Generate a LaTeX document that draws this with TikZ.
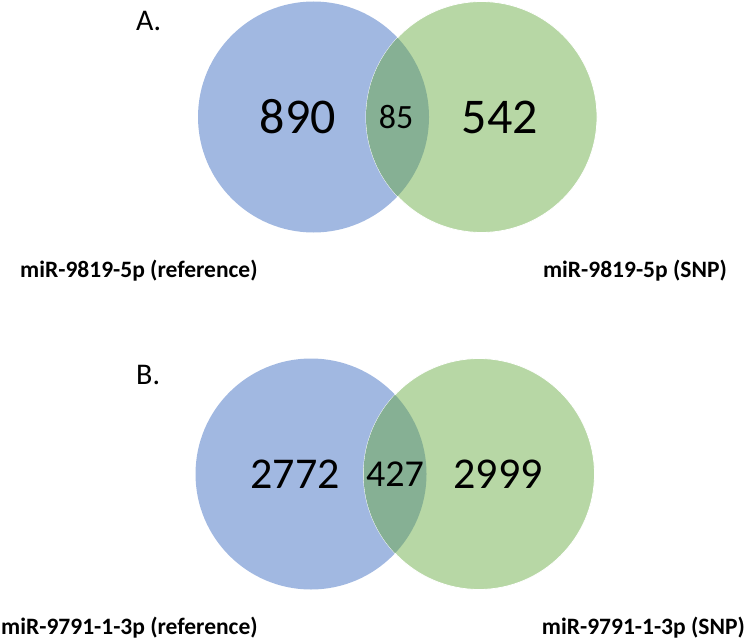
\documentclass[tikz,border=0pt]{standalone}
\usepackage{fontspec}
\setmainfont{Carlito}
\usepackage{tikz}

\definecolor{refblue}{RGB}{161,184,225}
\definecolor{snpgreen}{RGB}{183,215,165}
\definecolor{shared}{RGB}{134,176,148}

\begin{document}
\begin{tikzpicture}
  [x=1pt,y=-1pt,every node/.style={inner sep=0pt},
   setref/.style={circle,minimum size=231pt,fill=refblue},
   setsnp/.style={circle,minimum size=231pt,fill=snpgreen,draw=white,line width=0.8pt},
   big/.style={font=\fontsize{50}{50}\selectfont},
   mid/.style={font=\fontsize{44}{44}\selectfont},
   setname/.style={font=\bfseries\fontsize{23.5}{23.5}\selectfont},
   panel/.style={font=\fontsize{30}{30}\selectfont}]

  \useasboundingbox (0,0) rectangle (749,639);

  % panel A
  \node[panel,anchor=base west] (labA) at (136,31) {A.};
  \node[setref] (refA) at (313.5,117) {};
  \node[setsnp] (snpA) at (481.5,117) {};
  \begin{scope}
    \clip (refA.center) circle (115.5);
    \fill[shared] (snpA.center) circle (115.5);
  \end{scope}
  \node[big] (onlyrefA) at (298,117) {890};
  \node[font=\fontsize{34}{34}\selectfont] (bothA) at (396,117) {85};
  \node[big] (onlysnpA) at (500,117) {542};
  \node[setname,anchor=base west] (nameRefA) at (20,277) {miR-9819-5p (reference)};
  \node[setname,anchor=base east] (nameSnpA) at (727,277) {miR-9819-5p (SNP)};

  % panel B
  \node[panel,anchor=base west] (labB) at (136,384) {B.};
  \node[setref] (refB) at (311,474) {};
  \node[setsnp] (snpB) at (479,474) {};
  \begin{scope}
    \clip (refB.center) circle (115.5);
    \fill[shared] (snpB.center) circle (115.5);
  \end{scope}
  \node[mid] (onlyrefB) at (295,474) {2772};
  \node[font=\fontsize{38}{38}\selectfont] (bothB) at (395,474) {427};
  \node[mid] (onlysnpB) at (498,474) {2999};
  \node[setname,anchor=base west] (nameRefB) at (1,634) {miR-9791-1-3p (reference)};
  \node[setname,anchor=base east] (nameSnpB) at (745,634) {miR-9791-1-3p (SNP)};
\end{tikzpicture}
\end{document}
